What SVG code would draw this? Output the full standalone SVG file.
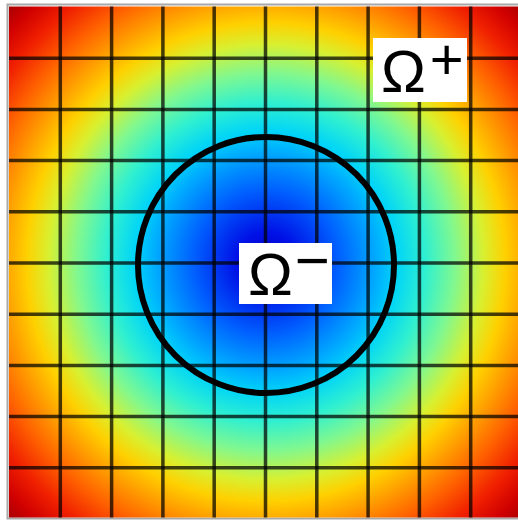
<svg xmlns="http://www.w3.org/2000/svg" width="518" height="520" viewBox="0 0 518 520">
  <defs>
    <radialGradient id="phi" gradientUnits="userSpaceOnUse" cx="266" cy="262" r="363">
      <stop offset="0" stop-color="#0000c0"/>
      <stop offset="0.08" stop-color="#0010e6"/>
      <stop offset="0.2" stop-color="#0060ff"/>
      <stop offset="0.3" stop-color="#00a8ff"/>
      <stop offset="0.36" stop-color="#00d4f8"/>
      <stop offset="0.44" stop-color="#30f0d0"/>
      <stop offset="0.52" stop-color="#80f890"/>
      <stop offset="0.6" stop-color="#d8f030"/>
      <stop offset="0.66" stop-color="#ffd000"/>
      <stop offset="0.72" stop-color="#ffa000"/>
      <stop offset="0.8" stop-color="#ff6000"/>
      <stop offset="0.88" stop-color="#f02000"/>
      <stop offset="0.95" stop-color="#d00000"/>
      <stop offset="1" stop-color="#a80000"/>
    </radialGradient>
    <filter id="soft" x="-5%" y="-5%" width="110%" height="110%">
      <feGaussianBlur stdDeviation="0.7"/>
    </filter>
  </defs>
  <style>
    .gl { stroke: #000; stroke-opacity: 0.72; stroke-width: 3.5; fill: none; }
    .lbl { fill: #fff; }
    .sym { font-family: "Liberation Sans", Arial, sans-serif; font-size: 60px; fill: #000; }
  </style>
  <rect width="518" height="520" fill="#fff"/>
  <g id="field">
    <rect x="7.5" y="4.5" width="520" height="514" fill="none" stroke="#a8a8a8" stroke-width="2"/>
    <rect x="9" y="6.5" width="513" height="511" fill="url(#phi)"/>
  </g>
  <g id="grid" filter="url(#soft)">
    <path class="gl" d="M60.3 6.5V517.5M111.6 6.5V517.5M162.9 6.5V517.5M214.2 6.5V517.5M265.5 6.5V517.5M316.8 6.5V517.5M368.1 6.5V517.5M419.4 6.5V517.5M470.7 6.5V517.5"/>
    <path class="gl" d="M9 58.2H518M9 109.4H518M9 160.6H518M9 211.8H518M9 263H518M9 314.2H518M9 365.4H518M9 416.6H518M9 467.8H518"/>
  </g>
  <g id="interface">
    <circle cx="266" cy="265" r="128" fill="none" stroke="#000" stroke-width="6"/>
  </g>
  <g id="label-omega-plus">
    <rect class="lbl" x="373" y="38" width="94" height="64"/>
    <text class="sym" x="381" y="92">Ω<tspan dx="4" dy="-13.5" font-size="58">+</tspan></text>
  </g>
  <g id="label-omega-minus">
    <rect class="lbl" x="239" y="243" width="93" height="61"/>
    <text class="sym" x="248" y="295">Ω<tspan dx="2" dy="-14" font-size="60">−</tspan></text>
  </g>
</svg>
